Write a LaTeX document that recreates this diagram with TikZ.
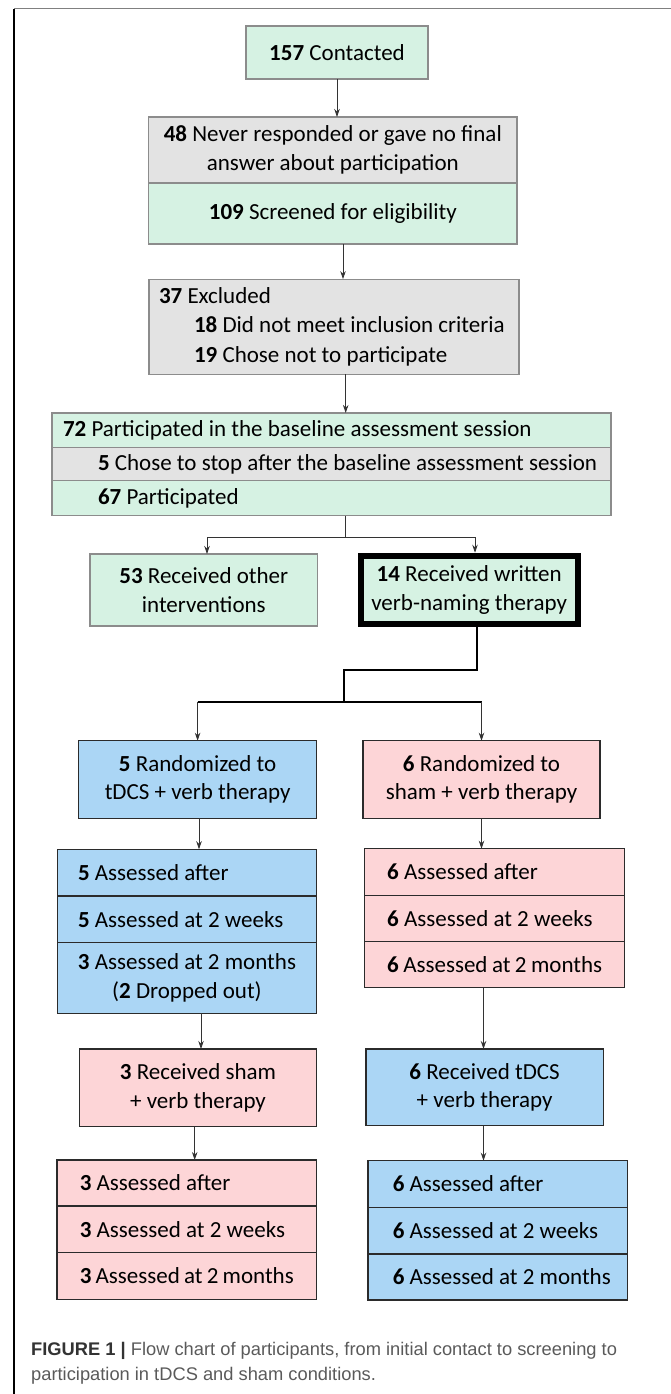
\documentclass[tikz,border=0pt]{standalone}
\usepackage{fontspec}
\setmainfont{Carlito}
\newfontfamily\capfont{Liberation Sans}
\usetikzlibrary{positioning,arrows.meta}

\definecolor{boxgreen}{HTML}{D6F2E3}
\definecolor{boxgrey}{HTML}{E3E3E3}
\definecolor{boxblue}{HTML}{ABD6F5}
\definecolor{boxpink}{HTML}{FDD5D7}
\definecolor{lightedge}{HTML}{8C8C8C}
\definecolor{darkedge}{HTML}{2B2B2B}
\definecolor{arrgray}{HTML}{333333}
\definecolor{capgray}{HTML}{5A5A5A}
\definecolor{capdark}{HTML}{333333}

\begin{document}
\begin{tikzpicture}[x=1pt,y=-1pt,
  every node/.style={font=\fontsize{23}{28.5}\selectfont, inner sep=0pt,
    execute at begin node={\spaceskip=0pt\xspaceskip=0pt\hyphenpenalty=10000\relax}},
  box/.style={rectangle, align=center, outer sep=0pt},
  greenbox/.style={box, fill=boxgreen, draw=lightedge, line width=1.2pt},
  greybox/.style={box, fill=boxgrey, draw=lightedge, line width=1.2pt},
  bluebox/.style={box, fill=boxblue, draw=darkedge, line width=1.3pt},
  pinkbox/.style={box, fill=boxpink, draw=darkedge, line width=1.3pt},
  arr/.style={-{Stealth[length=8pt,width=5.5pt]}, draw=arrgray, line width=0.8pt},
  joint/.style={draw=black, line width=2pt}]
  \useasboundingbox (0,0) rectangle (671,1394);
  % frame
  \draw[gray, line width=1.4pt] (14,8.7) -- (671,8.7);
  \draw[black, line width=1.5pt] (14,1394) -- (14,8.7);

  % screening
  \node[greenbox, minimum width=182pt, minimum height=53pt] (contacted) at (337,52.5) {\textbf{157} Contacted};
  \node[greybox, minimum width=368.5pt, minimum height=66pt] (never) at (332.8,150) {\textbf{48} Never responded or gave no final\\answer about participation};
  \node[greenbox, minimum width=368.5pt, minimum height=61pt, anchor=north] (screened) at (never.south) {\textbf{109} Screened for eligibility};
  \node[greybox, minimum width=370pt, minimum height=95pt, text width=350pt, inner xsep=10pt, align=left,
        font=\fontsize{23}{29.5}\selectfont] (excluded) at (334,326.6)
        {\textbf{37} Excluded\\\hspace*{35pt}\textbf{18} Did not meet inclusion criteria\\\hspace*{35pt}\textbf{19} Chose not to participate};
  \node[greenbox, minimum width=559pt, minimum height=34.7pt, text width=537pt, inner xsep=11pt, align=left] (base72) at (331.5,430.3) {\textbf{72} Participated in the baseline assessment session};
  \node[greybox, minimum width=559pt, minimum height=33pt, text width=537pt, inner xsep=11pt, align=left, anchor=north] (stop5) at (base72.south) {\hspace*{35pt}\textbf{5} Chose to stop after the baseline assessment session};
  \node[greenbox, minimum width=559pt, minimum height=35pt, text width=537pt, inner xsep=11pt, align=left, anchor=north] (part67) at (stop5.south) {\hspace*{35pt}\textbf{67} Participated};

  % interventions
  \node[greenbox, minimum width=227.5pt, minimum height=72pt] (other53) at (203.8,590) {\textbf{53} Received other\\interventions};
  \node[greenbox, draw=black, line width=6pt, outer sep=3pt, minimum width=217pt, minimum height=68.6pt] (verb14) at (469.2,590) {\textbf{14} Received written\\verb-naming therapy};

  % first phase
  \node[bluebox, minimum width=238pt, minimum height=77.6pt] (rand5) at (197.6,779.5) {\textbf{5} Randomized to\\tDCS + verb therapy};
  \node[pinkbox, minimum width=237pt, minimum height=77.6pt] (rand6) at (481.5,779.5) {\textbf{6} Randomized to\\sham + verb therapy};

  \node[bluebox, minimum width=259.3pt, minimum height=46.7pt, text width=218pt, inner xsep=20.6pt, align=left] (la1) at (187,872.6) {\textbf{5} Assessed after};
  \node[bluebox, minimum width=259.3pt, minimum height=46.3pt, text width=218pt, inner xsep=20.6pt, align=left, anchor=north] (la2) at (la1.south) {\textbf{5} Assessed at 2 weeks};
  \node[bluebox, minimum width=259.3pt, minimum height=71pt, anchor=north] (la3) at (la2.south) {\textbf{3} Assessed at 2 months\\(\textbf{2} Dropped out)};

  \node[pinkbox, minimum width=260pt, minimum height=46.6pt, text width=215pt, inner xsep=22.4pt, align=left] (ra1) at (494.7,872) {\textbf{6} Assessed after};
  \node[pinkbox, minimum width=260pt, minimum height=46.4pt, text width=215pt, inner xsep=22.4pt, align=left, anchor=north] (ra2) at (ra1.south) {\textbf{6} Assessed at 2 weeks};
  \node[pinkbox, minimum width=260pt, minimum height=46pt, text width=215pt, inner xsep=22.4pt, align=left, anchor=north] (ra3) at (ra2.south) {\textbf{6} Assessed at 2 months};

  % crossover
  \node[pinkbox, minimum width=237pt, minimum height=77.7pt] (sham3) at (198,1087.8) {\textbf{3} Received sham\\+ verb therapy};
  \node[bluebox, minimum width=237.4pt, minimum height=76.7pt] (tdcs6) at (484.6,1087.3) {\textbf{6} Received tDCS\\+ verb therapy};

  \node[pinkbox, minimum width=259.6pt, minimum height=46pt, text width=214pt, inner xsep=22.6pt, align=left] (lf1) at (186.8,1183) {\textbf{3} Assessed after};
  \node[pinkbox, minimum width=259.6pt, minimum height=46.7pt, text width=214pt, inner xsep=22.6pt, align=left, anchor=north] (lf2) at (lf1.south) {\textbf{3} Assessed at 2 weeks};
  \node[pinkbox, minimum width=259.6pt, minimum height=46.6pt, text width=214pt, inner xsep=22.6pt, align=left, anchor=north] (lf3) at (lf2.south) {\textbf{3} Assessed at 2 months};

  \node[bluebox, minimum width=259.3pt, minimum height=46.6pt, text width=239.3pt, inner xsep=10pt, align=left] (rf1) at (497.6,1184) {\hspace*{14.8pt}\textbf{6} Assessed after};
  \node[bluebox, minimum width=259.3pt, minimum height=46.7pt, text width=239.3pt, inner xsep=10pt, align=left, anchor=north] (rf2) at (rf1.south) {\hspace*{14.8pt}\textbf{6} Assessed at 2 weeks};
  \node[bluebox, minimum width=259.3pt, minimum height=46pt, text width=239.3pt, inner xsep=10pt, align=left, anchor=north] (rf3) at (rf2.south) {\hspace*{14.8pt}\textbf{6} Assessed at 2 months};

  % caption
  \node[anchor=north west, align=left, text=capgray, font=\capfont\fontsize{18.3}{25}\selectfont] (caption) at (31,1342)
    {{\bfseries\color{capdark}FIGURE 1 |} Flow chart of participants, from initial contact to screening to\\participation in tDCS and sham conditions.};

  % connectors
  \draw[arr] (contacted.south) -- (contacted.south |- never.north);
  \draw[arr] (screened.south -| 343,0) -- (excluded.north -| 343,0);
  \draw[arr] (excluded.south -| 345.7,0) -- (base72.north -| 345.7,0);
  \coordinate (split) at (345.7,537);
  \draw[arrgray, line width=0.8pt] (part67.south -| split) -- (split);
  \draw[arr] (split) -| (other53.north -| 207,0);
  \draw[arr] (split) -| (verb14.north -| 475,0);
  \coordinate (bendA) at (344,670);
  \coordinate (bendB) at (344,701.7);
  \draw[joint] (verb14.south -| 476.7,0) |- (bendA) -- (bendB);
  \draw[joint] (rand5.north |- bendB) -- (rand6.north |- bendB);
  \draw[arr] (rand5.north |- bendB) -- (rand5.north);
  \draw[arr] (rand6.north |- bendB) -- (rand6.north);
  \draw[arr] (rand5.south -| 199,0) -- (la1.north -| 199,0);
  \draw[arr] (rand6.south) -- (rand6.south |- ra1.north);
  \draw[arr] (la3.south -| 201,0) -- (sham3.north -| 201,0);
  \draw[arr, line width=1.2pt] (ra3.south -| 483.5,0) -- (tdcs6.north -| 483.5,0);
  \draw[arr] (sham3.south -| 194.7,0) -- (lf1.north -| 194.7,0);
  \draw[arr, line width=1.1pt] (tdcs6.south -| 483.5,0) -- (rf1.north -| 483.5,0);
\end{tikzpicture}
\end{document}
